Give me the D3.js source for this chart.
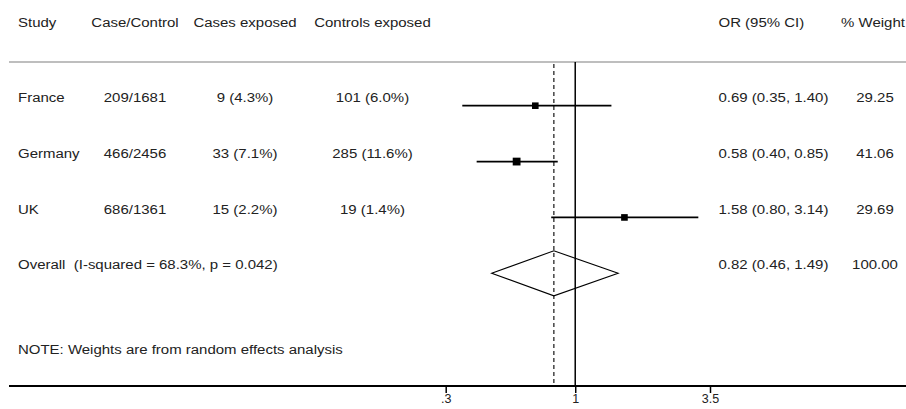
<!DOCTYPE html>
<html>
<head>
<meta charset="utf-8">
<script src="https://cdn.jsdelivr.net/npm/d3@7/dist/d3.min.js"></script>
<style>
  body { margin: 0; background: #fff; }
  svg { display: block; }
  text { white-space: pre; }
</style>
</head>
<body>
<div class="container"></div>
<script>
// study rows
const studies = ["France", "Germany", "UK"];
const caseControl = ["209/1681", "466/2456", "686/1361"];
const casesExposed = ["9 (4.3%)", "33 (7.1%)", "15 (2.2%)"];
const controlsExposed = ["101 (6.0%)", "285 (11.6%)", "19 (1.4%)"];
const orValue = [0.69, 0.58, 1.58];
const ciLow = [0.35, 0.40, 0.80];
const ciHigh = [1.40, 0.85, 3.14];
const weights = [29.25, 41.06, 29.69];

// pooled estimate
const overallLabel = "Overall  (I-squared = 68.3%, p = 0.042)";
const overallOR = [0.82, 0.46, 1.49];
const overallWeight = "100.00";

const headers = ["Study", "Case/Control", "Cases exposed", "Controls exposed", "OR (95% CI)", "% Weight"];
const noteText = "NOTE: Weights are from random effects analysis";
const tickValues = [0.3, 1, 3.5];
const tickLabels = [".3", "1", "3.5"];

const width = 906;
const height = 409;
const fontSize = 13.5;
const stretch = 1.11; // picture is a little wider than tall
const textColor = "#222";

const svg = d3
  .select(".container")
  .append("svg")
  .attr("width", width)
  .attr("height", height)
  .attr("font-family", "'Liberation Sans', Arial, sans-serif")
  .attr("font-size", fontSize)
  .attr("fill", textColor);

const x = d3.scaleLog().domain([0.3, 3.5]).range([445.7, 710]);
// row index -> y of the marks (0..2 studies, 3 overall)
const rowY = d3.scaleLinear().domain([0, 3]).range([105.7, 273.3]);
const textOff = -8.6;
const sizeScale = d3.scaleSqrt().domain([0, 41.06]).range([0, 7.8]);

const fmt = d3.format(".2f");
const orText = i => `${fmt(orValue[i])} (${fmt(ciLow[i])}, ${fmt(ciHigh[i])})`;

const addText = (t, px, py, anchor) =>
  svg
    .append("text")
    .attr("transform", `translate(${px},${py}) scale(${stretch},1)`)
    .attr("dy", "0.35em")
    .attr("text-anchor", anchor)
    .attr("xml:space", "preserve")
    .text(t);

// column positions
const colX = [18, 135, 245, 372.5, 718.5, 873];
const colAnchor = ["start", "middle", "middle", "middle", "start", "middle"];

headers.forEach((h, i) => addText(h, colX[i], 22.5, colAnchor[i]));

studies.forEach((s, i) => {
  const ty = rowY(i) + textOff;
  const cells = [s, caseControl[i], casesExposed[i], controlsExposed[i], orText(i), fmt(weights[i])];
  cells.forEach((c, j) => addText(c, colX[j] + (j === 5 ? 2 : 0), ty, colAnchor[j]));
});

addText(overallLabel, colX[0], rowY(3) + textOff, "start");
addText(`${fmt(overallOR[0])} (${fmt(overallOR[1])}, ${fmt(overallOR[2])})`, colX[4], rowY(3) + textOff, "start");
addText(overallWeight, colX[5] + 2, rowY(3) + textOff, "middle");
addText(noteText, colX[0], 349, "start");

// header rule
svg
  .append("line")
  .attr("x1", 9)
  .attr("x2", width)
  .attr("y1", 62)
  .attr("y2", 62)
  .attr("stroke", "#a8a8a8")
  .attr("stroke-width", 1.5);

const axisY = 386;

// line of no effect and pooled estimate line
svg
  .append("line")
  .attr("x1", x(1))
  .attr("x2", x(1))
  .attr("y1", 62)
  .attr("y2", axisY)
  .attr("stroke", "#000")
  .attr("stroke-width", 1.5);

svg
  .append("line")
  .attr("x1", x(overallOR[0]))
  .attr("x2", x(overallOR[0]))
  .attr("y1", 64)
  .attr("y2", axisY)
  .attr("stroke", "#000")
  .attr("stroke-width", 1.1)
  .attr("stroke-dasharray", "4,3");

// confidence intervals
const rows = studies.map((s, i) => ({ i, or: orValue[i], lo: ciLow[i], hi: ciHigh[i], w: weights[i] }));

svg
  .append("g")
  .selectAll("line")
  .data(rows)
  .join("line")
  .attr("x1", d => x(d.lo))
  .attr("x2", d => x(d.hi))
  .attr("y1", d => rowY(d.i))
  .attr("y2", d => rowY(d.i))
  .attr("stroke", "#000")
  .attr("stroke-width", 1.8);

svg
  .append("g")
  .selectAll("rect")
  .data(rows)
  .join("rect")
  .attr("x", d => x(d.or) - sizeScale(d.w) / 2)
  .attr("y", d => rowY(d.i) - sizeScale(d.w) / 2)
  .attr("width", d => sizeScale(d.w))
  .attr("height", d => sizeScale(d.w))
  .attr("fill", "#000");

// pooled diamond
const dy = rowY(3);
const halfH = 22.5;
svg
  .append("path")
  .attr("d", d3.line()([
    [x(overallOR[1]), dy],
    [x(overallOR[0]), dy - halfH],
    [x(overallOR[2]), dy],
    [x(overallOR[0]), dy + halfH]
  ]) + "Z")
  .attr("fill", "none")
  .attr("stroke", "#000")
  .attr("stroke-width", 1.1);

// x axis
svg
  .append("line")
  .attr("x1", 9)
  .attr("x2", width)
  .attr("y1", axisY)
  .attr("y2", axisY)
  .attr("stroke", "#000")
  .attr("stroke-width", 2);

const axis = svg
  .append("g")
  .attr("transform", `translate(0,${axisY})`)
  .call(
    d3
      .axisBottom(x)
      .tickValues(tickValues)
      .tickFormat((d, i) => tickLabels[i])
      .tickSize(7)
      .tickPadding(2)
  );
axis.select(".domain").remove();
axis.selectAll(".tick line").attr("stroke", "#000").attr("stroke-width", 1.5);
axis
  .selectAll(".tick text")
  .attr("font-size", 12.5)
  .attr("dy", "0.62em")
  .attr("font-family", "'Liberation Sans', Arial, sans-serif")
  .attr("fill", textColor);
</script>
</body>
</html>
